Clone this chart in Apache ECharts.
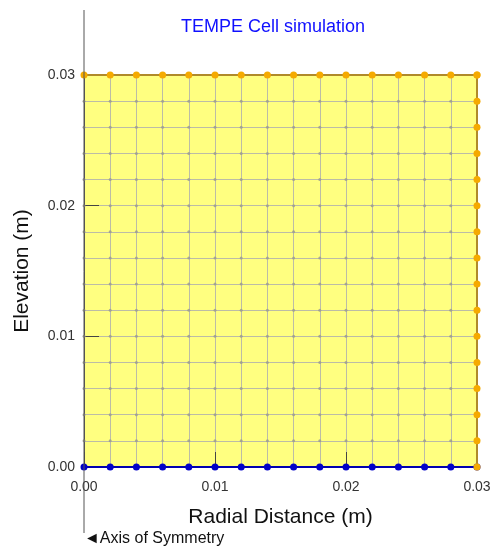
<!DOCTYPE html>
<html>
<head>
<meta charset="utf-8">
<script src="https://cdn.jsdelivr.net/npm/echarts@6/dist/echarts.min.js"></script>
<style>
  html, body { margin: 0; padding: 0; background: #fff; }
  #chart { width: 491px; height: 546px; }
</style>
</head>
<body>
<div id="chart"></div>
<script>
// Mesh node coordinates (m)
const nodeX = [0, 0.002, 0.004, 0.006, 0.008, 0.010, 0.012, 0.014, 0.016, 0.018, 0.020, 0.022, 0.024, 0.026, 0.028, 0.030];
const nodeY = [0, 0.002, 0.004, 0.006, 0.008, 0.010, 0.012, 0.014, 0.016, 0.018, 0.020, 0.022, 0.024, 0.026, 0.028, 0.030];
const domainR = 0.03;   // radial extent
const domainZ = 0.03;   // elevation extent

const titleText = 'TEMPE Cell simulation';
const xName = 'Radial Distance (m)';
const yName = 'Elevation (m)';
const symmetryLabel = '\u25C4Axis of Symmetry';

// interior + boundary nodes
const meshNodes = [];
nodeX.forEach(x => nodeY.forEach(y => meshNodes.push([x, y])));

const topBoundary = nodeX.map(x => [x, domainZ]);
const rightBoundary = nodeY.map(y => [domainR, y]);
const bottomBoundary = nodeX.map(x => [x, 0]);

const chart = echarts.init(document.getElementById('chart'), null, { renderer: 'canvas' });

const fontFamily = 'Arial, "Liberation Sans", sans-serif';
const gridColor = '#bcbca6';

chart.setOption({
  animation: false,
  backgroundColor: '#ffffff',
  title: {
    text: titleText,
    left: 268, top: 13, textAlign: 'center',
    textStyle: { color: '#1010ff', fontSize: 18, fontWeight: 'normal', fontFamily }
  },
  grid: {
    left: 84, right: 14, top: 75, bottom: 79,
    containLabel: false, outerBoundsMode: 'none',
    show: true, backgroundColor: '#ffff80', borderWidth: 0
  },
  xAxis: {
    type: 'value', min: 0, max: domainR, interval: 0.01,
    name: xName, nameLocation: 'middle', nameGap: 40,
    nameTextStyle: { color: '#111', fontSize: 21, fontFamily },
    axisLine: { show: false },
    axisTick: { show: true, inside: true, length: 15, lineStyle: { color: '#444' } },
    axisLabel: { color: '#333', fontSize: 14, fontFamily, margin: 13, formatter: v => v.toFixed(2) },
    splitLine: { show: true, lineStyle: { color: gridColor, width: 1 } },
    minorTick: { show: false, splitNumber: 5 },
    minorSplitLine: { show: true, lineStyle: { color: gridColor, width: 1 } }
  },
  yAxis: {
    type: 'value', min: 0, max: domainZ, interval: 0.01,
    name: yName, nameLocation: 'middle', nameGap: 51,
    nameTextStyle: { color: '#111', fontSize: 21, fontFamily },
    axisLine: { show: true, lineStyle: { color: '#555', width: 1 } },
    axisTick: { show: true, inside: true, length: 15, lineStyle: { color: '#444' } },
    axisLabel: { color: '#333', fontSize: 14, fontFamily, margin: 9, formatter: v => v.toFixed(2) },
    splitLine: { show: true, lineStyle: { color: gridColor, width: 1 } },
    minorTick: { show: false, splitNumber: 5 },
    minorSplitLine: { show: true, lineStyle: { color: gridColor, width: 1 } }
  },
  series: [
    {
      name: 'nodes', type: 'scatter', data: meshNodes,
      symbolSize: 3, itemStyle: { color: '#999990' }, z: 2, silent: true
    },
    {
      name: 'bottom', type: 'line', data: bottomBoundary,
      symbol: 'circle', symbolSize: 7,
      lineStyle: { color: '#0000b0', width: 2 },
      itemStyle: { color: '#0000c8' }, z: 4
    },
    {
      name: 'right', type: 'line', data: rightBoundary,
      symbol: 'circle', symbolSize: 7,
      lineStyle: { color: '#b08a2a', width: 2 },
      itemStyle: { color: '#f5aa00' }, z: 5
    },
    {
      name: 'top', type: 'line', data: topBoundary,
      symbol: 'circle', symbolSize: 7,
      lineStyle: { color: '#b08a2a', width: 2 },
      itemStyle: { color: '#f5aa00' }, z: 5
    }
  ]
});

// extend the symmetry axis beyond the plot and label it
const pTop = chart.convertToPixel({ gridIndex: 0 }, [0, domainZ]);
const pBot = chart.convertToPixel({ gridIndex: 0 }, [0, 0]);
chart.setOption({
  graphic: [
    {
      type: 'line', z: 10,
      shape: { x1: pTop[0], y1: 10, x2: pBot[0], y2: 533 },
      style: { stroke: '#555', lineWidth: 1 }
    },
    {
      type: 'text', z: 10, left: pBot[0], top: 531,
      style: { text: symmetryLabel, fill: '#111', fontSize: 16, fontFamily }
    }
  ]
});
</script>
</body>
</html>
